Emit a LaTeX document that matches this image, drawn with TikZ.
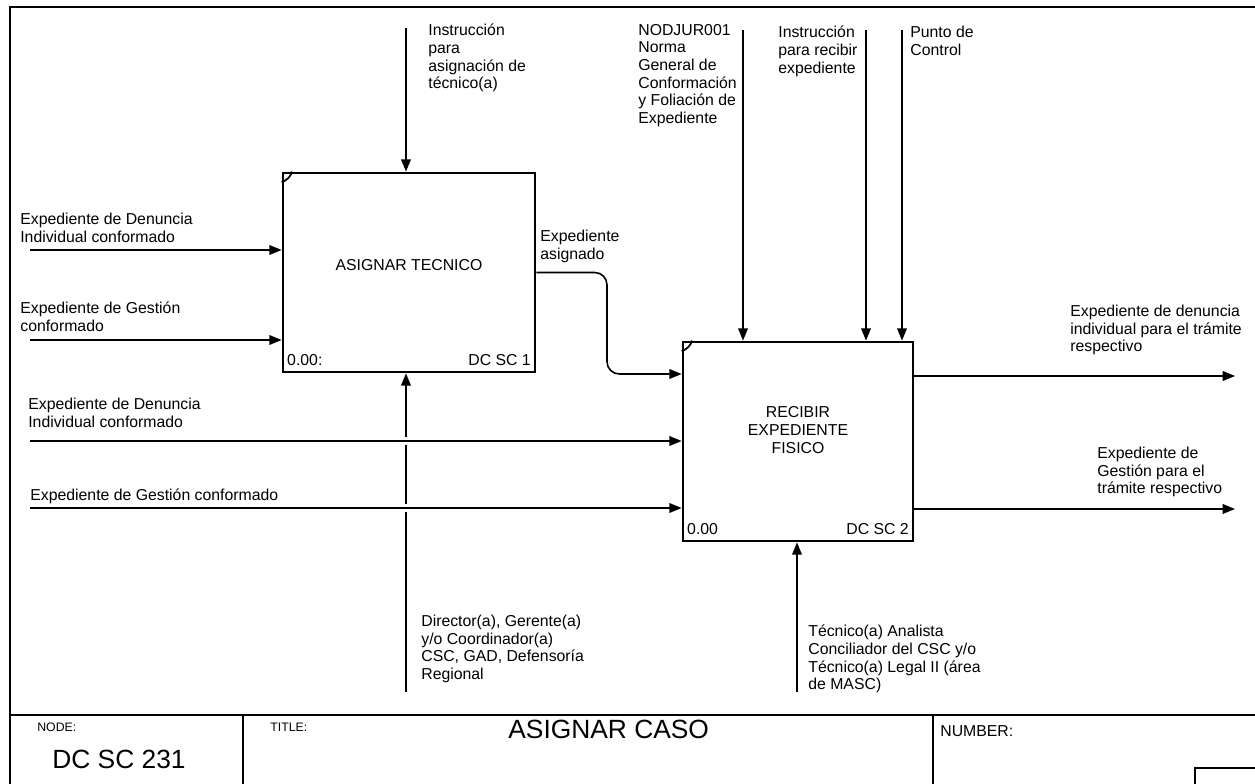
\documentclass[tikz,border=0pt]{standalone}
\usepackage{fontspec}
\setmainfont{Liberation Sans}
\usepackage{tikz}
\usetikzlibrary{positioning, arrows.meta}

\begin{document}
\begin{tikzpicture}[x=0.02cm, y=-0.02cm, every node/.style={inner sep=0pt, font=\fontsize{9}{10}\selectfont},
  act/.style={draw, line width=1.6pt, minimum height=3.98cm},
  lbl/.style={anchor=north west, align=left},
  flow/.style={-{Triangle[length=7pt,width=5.5pt]}, line width=0.9pt},
  gap/.style={preaction={draw=white, line width=4pt, -, shorten >=6pt}},
  big/.style={font=\fontsize{15}{17}\selectfont},
  tiny/.style={font=\fontsize{7}{8}\selectfont}]
  \useasboundingbox (0,0) rectangle (1255,784);

  % frame and title block
  \draw[line width=1pt] (1255,7) -- (10,7) -- (10,784);
  \draw[line width=1pt] (10,715) -- (1255,715);
  \draw[line width=1pt] (243,715) -- (243,784);
  \draw[line width=1pt] (933,715) -- (933,784);
  \draw[line width=1pt] (1195,784) -- (1195,768) -- (1255,768);
  \node[tiny, anchor=north west] (nodelbl) at (37,723) {NODE:};
  \node[big, anchor=north west] (nodenum) at (52,750) {DC SC 231};
  \node[tiny, anchor=north west] (titlelbl) at (270,723) {TITLE:};
  \node[big, anchor=north west] (titletxt) at (508,720) {ASIGNAR CASO};
  \node[anchor=north west] (numlbl) at (940,725) {NUMBER:};

  % activities
  \node[act, minimum width=5.04cm] (b1) at (409,272.5) {};
  \node (t1) at (409,265) {ASIGNAR TECNICO};
  \node[anchor=south west] (n1) at ([shift={(3pt,4pt)}]b1.south west) {0.00:};
  \node[anchor=south east] (d1) at ([shift={(-3pt,4pt)}]b1.south east) {DC SC 1};
  \draw[line width=1pt] ([yshift=-6pt]b1.north west) to[bend right=25] ([xshift=6pt]b1.north west);

  \node[act, minimum width=4.6cm] (b2) at (798,441.5) {};
  \node[align=center] (t2) at (798,430) {RECIBIR\\EXPEDIENTE\\FISICO};
  \node[anchor=south west] (n2) at ([shift={(3pt,4pt)}]b2.south west) {0.00};
  \node[anchor=south east] (d2) at ([shift={(-3pt,4pt)}]b2.south east) {DC SC 2};
  \draw[line width=1pt] ([yshift=-6pt]b2.north west) to[bend right=25] ([xshift=6pt]b2.north west);

  % ends of the arrows
  \coordinate (c1) at (406,28);
  \coordinate (c2a) at (743,30);
  \coordinate (c2b) at (866,30);
  \coordinate (c2c) at (902,30);
  \coordinate (i1) at (30,250);
  \coordinate (i2) at (30,340);
  \coordinate (i3) at (30,441);
  \coordinate (i4) at (30,508);
  \coordinate (m1) at (406,692);
  \coordinate (m2) at (797,692);
  \coordinate (o1) at (1235,376);
  \coordinate (o2) at (1235,509);
  \coordinate (bend) at (607,374);

  \draw[flow] (c1) -- (c1 |- b1.north);
  \draw[flow] (i1) -- (i1 -| b1.west);
  \draw[flow] (i2) -- (i2 -| b1.west);
  \draw[flow] (m1) -- (m1 |- b1.south);
  \draw[flow, rounded corners=7pt] (b1.east) -| (bend) -- (bend -| b2.west);

  \draw[flow, gap] (i3) -- (i3 -| b2.west);
  \draw[flow, gap] (i4) -- (i4 -| b2.west);
  \draw[flow] (c2a) -- (c2a |- b2.north);
  \draw[flow] (c2b) -- (c2b |- b2.north);
  \draw[flow] (c2c) -- (c2c |- b2.north);
  \draw[flow] (m2) -- (m2 |- b2.south);
  \draw[flow] (b2.east |- o1) -- (o1);
  \draw[flow] (b2.east |- o2) -- (o2);

  % arrow labels
  \node[lbl] (lc1) at (428,24) {Instrucción\\para\\asignación de\\técnico(a)};
  \node[lbl] (lc2a) at (638,24) {NODJUR001\\Norma\\General de\\Conformación\\y Foliación de\\Expediente};
  \node[lbl] (lc2b) at (778,26) {Instrucción\\para recibir\\expediente};
  \node[lbl] (lc2c) at (910,26) {Punto de\\Control};
  \node[lbl] (li1) at (20,213) {Expediente de Denuncia\\Individual conformado};
  \node[lbl] (li2) at (20,302) {Expediente de Gestión\\conformado};
  \node[lbl] (lb) at (540,230) {Expediente\\asignado};
  \node[lbl] (li3) at (28,398) {Expediente de Denuncia\\Individual conformado};
  \node[lbl] (li4) at (30,489) {Expediente de Gestión conformado};
  \node[lbl] (lm1) at (421,615) {Director(a), Gerente(a)\\y/o Coordinador(a)\\CSC, GAD, Defensoría\\Regional};
  \node[lbl] (lm2) at (808,625) {Técnico(a) Analista\\Conciliador del CSC y/o\\Técnico(a) Legal II (área\\de MASC)};
  \node[lbl] (lo1) at (1070,305) {Expediente de denuncia\\individual para el trámite\\respectivo};
  \node[lbl] (lo2) at (1097,447) {Expediente de\\Gestión para el\\trámite respectivo};
\end{tikzpicture}
\end{document}
